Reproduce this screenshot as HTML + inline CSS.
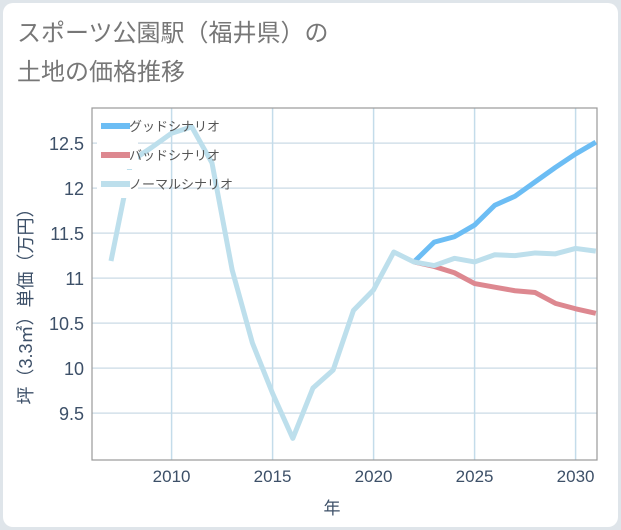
<!DOCTYPE html>
<html><head><meta charset="utf-8"><style>
body{margin:0;background:#dfe5ea;}
#wrap{position:absolute;left:0;top:0;width:621px;height:530px;}
#panel{position:absolute;left:3px;top:3px;width:615px;height:524px;background:#fff;border-radius:10px;}
.t{font-family:"Liberation Sans","Noto Sans CJK JP",sans-serif;}
</style></head><body>
<div id="wrap">
<div id="panel"></div>
<svg id="svg" width="621" height="530" style="position:absolute;left:0;top:0">
<text x="17" y="41" font-size="24" fill="#777" class="t">スポーツ公園駅（福井県）の</text>
<text x="17" y="80" font-size="24" fill="#777" class="t">土地の価格推移</text>
<text x="332" y="514" font-size="17" fill="#3d5068" text-anchor="middle" class="t">年</text>
<text transform="translate(32,302) rotate(-90)" font-size="18" fill="#3d5068" text-anchor="middle" class="t">坪（3.3㎡）単価（万円）</text>
<g id="grid"></g><g id="lines"></g><g id="legend"></g>
</svg>
</div>
<script>
const years=[2007,2008,2009,2010,2011,2012,2013,2014,2015,2016,2017,2018,2019,2020,2021,2022,2023,2024,2025,2026,2027,2028,2029,2030,2031];
const normal=[11.19,12.3,12.45,12.61,12.68,12.28,11.09,10.28,9.72,9.22,9.78,9.98,10.64,10.87,11.29,11.18,11.14,11.22,11.18,11.26,11.25,11.28,11.27,11.33,11.30];
const goodYears=[2022,2023,2024,2025,2026,2027,2028,2029,2030,2031];
const good=[11.18,11.40,11.46,11.59,11.81,11.91,12.07,12.23,12.38,12.51];
const badYears=[2022,2023,2024,2025,2026,2027,2028,2029,2030,2031];
const bad=[11.18,11.13,11.06,10.94,10.90,10.86,10.84,10.72,10.66,10.61];
const xTicks=[2010,2015,2020,2025,2030];
const yTicks=[9.5,10,10.5,11,11.5,12,12.5];
const legendLabels=["グッドシナリオ","バッドシナリオ","ノーマルシナリオ"];
const X0=92,X1=597,Y0=108,Y1=460;
const xMin=2006.06,xMax=2031.06,yMin=8.98,yMax=12.89;
const sx=v=>X0+(v-xMin)/(xMax-xMin)*(X1-X0);
const sy=v=>Y1-(v-yMin)/(yMax-yMin)*(Y1-Y0);
const NS="http://www.w3.org/2000/svg";
function mk(tag,attrs,parent){const e=document.createElementNS(NS,tag);for(const k in attrs)e.setAttribute(k,attrs[k]);parent.appendChild(e);return e;}
const grid=document.getElementById('grid');
yTicks.forEach(v=>{
 const l=mk('line',{x1:X0,x2:X1,y1:sy(v),y2:sy(v),stroke:'#d3e0ea','stroke-width':1.5},grid);
 
 
 const t=mk('text',{x:84,y:sy(v)+7,'font-size':18,fill:'#3d5068','text-anchor':'end',class:'t'},grid);
 t.textContent=v;
 
 
});
xTicks.forEach(v=>{
 const l=mk('line',{x1:sx(v),x2:sx(v),y1:Y0,y2:Y1,stroke:'#c4dcea','stroke-width':1.5},grid);
 
 
 const t=mk('text',{x:sx(v),y:482,'font-size':17,fill:'#3d5068','text-anchor':'middle',class:'t'},grid);
 t.textContent=v;
 
 
});
const b=mk('rect',{x:X0,y:Y0,width:X1-X0,height:Y1-Y0,fill:'none',stroke:'#999','stroke-width':1.2},grid);


const lines=document.getElementById('lines');
function path(xs,ys,color,name){
 const d=xs.map((x,i)=>(i?'L':'M')+sx(x)+','+sy(ys[i])).join('');
 const p=mk('path',{d:d,fill:'none',stroke:color,'stroke-width':5,'stroke-linejoin':'round'},lines);
 
 
}
path(goodYears,good,'#6cbdf4','good-scenario-line');
path(badYears,bad,'#dd8890','bad-scenario-line');
path(years,normal,'#bddfec','normal-scenario-line');
const lg=document.getElementById('legend');
const colors=['#6cbdf4','#dd8890','#bddfec'];
legendLabels.forEach((s,i)=>{
 const y=126+i*29;
 const bg=mk('rect',{x:97,y:y-14,width:41,height:28,fill:'#fff'},lg);
 
 
 const l=mk('line',{x1:101,x2:130,y1:y,y2:y,stroke:colors[i],'stroke-width':6},lg);
 
 
 const t=mk('text',{x:129,y:y+5,'font-size':13,fill:'#555',class:'t'},lg);
 t.textContent=s;
 
 
});
</script>
</body></html>
